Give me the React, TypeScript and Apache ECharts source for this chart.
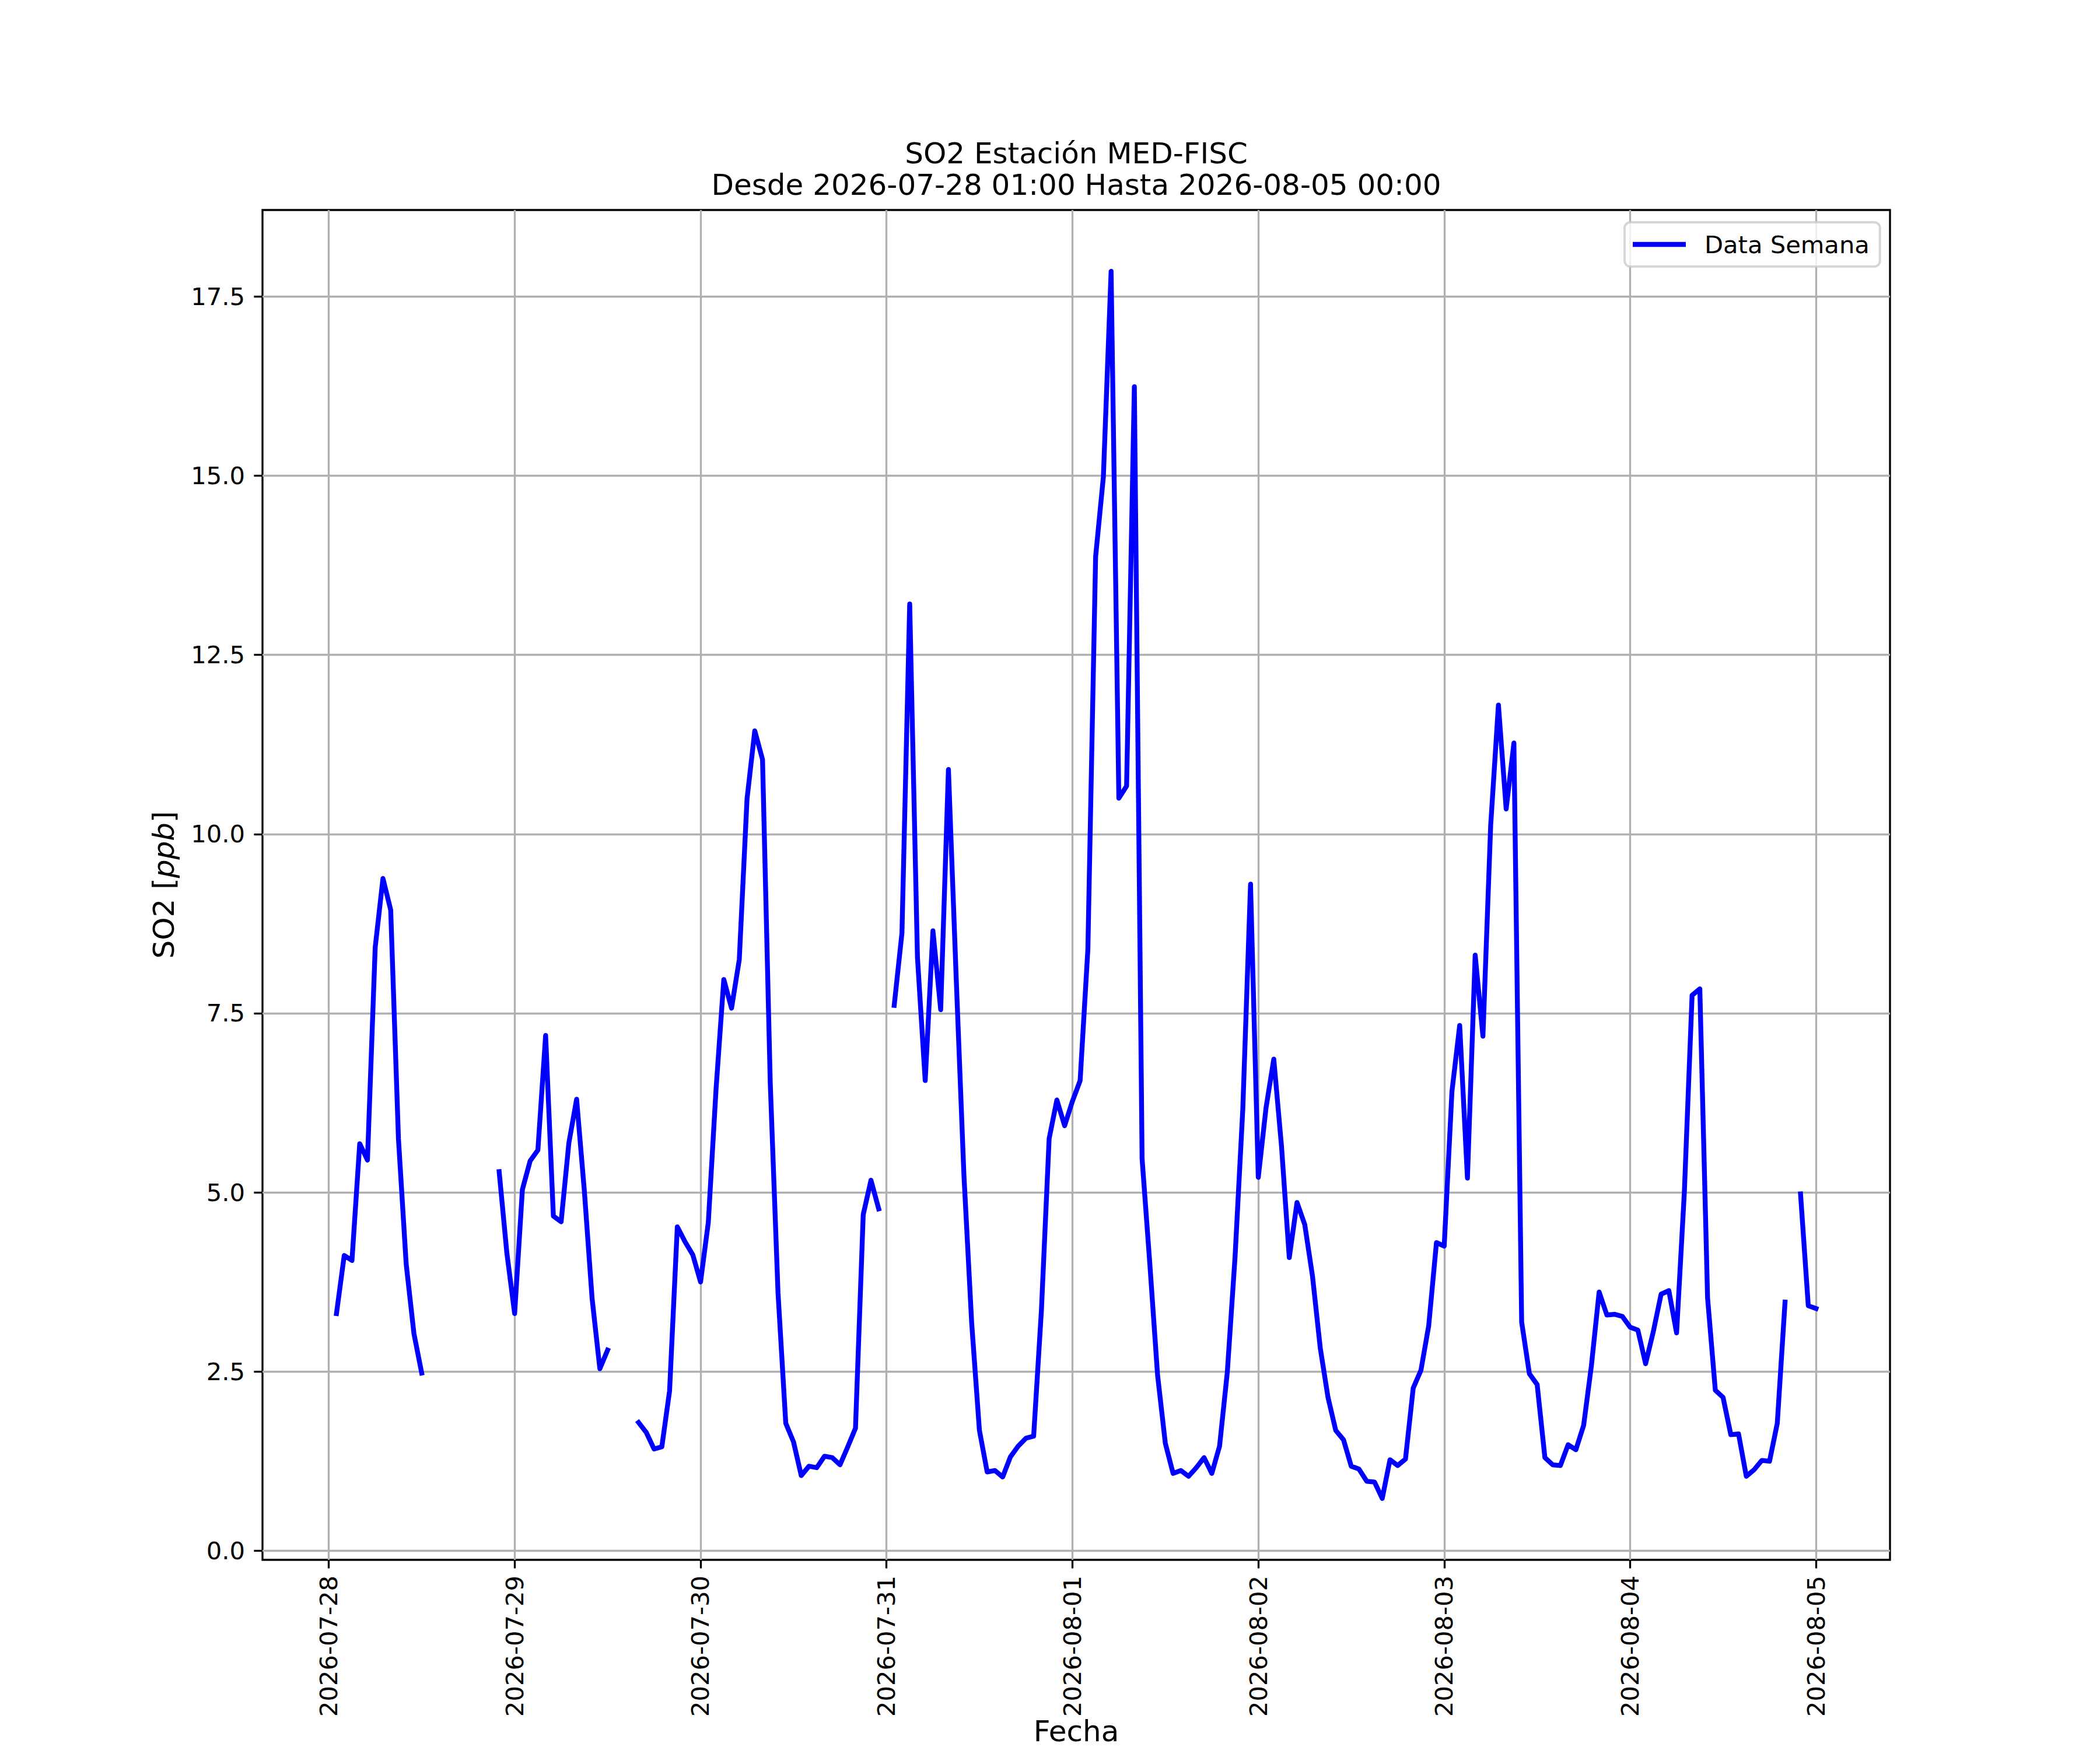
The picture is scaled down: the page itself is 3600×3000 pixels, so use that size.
import React, { useEffect, useRef } from "react";
import * as echarts from "echarts";

// ---- data (SO2 hourly, ppb; null = missing) ----
const dayLabels = [
  "2026-07-28", "2026-07-29", "2026-07-30", "2026-07-31", "2026-08-01",
  "2026-08-02", "2026-08-03", "2026-08-04", "2026-08-05",
];
const yTickValues = [0, 2.5, 5, 7.5, 10, 12.5, 15, 17.5];
const seriesName = "Data Semana";
const firstHour = 1; // first sample: 2026-07-28 01:00

// 2026-07-28, 01:00 .. 23:00
const jul28 = [3.31, 4.12, 4.05, 5.68, 5.45, 8.42, 9.38, 8.94, 5.75, 4.0, 3.03, 2.48,
  null, null, null, null, null, null, null, null, null, 5.29, 4.15];
const jul29 = [3.31, 5.04, 5.44, 5.59, 7.19, 4.67, 4.59, 5.69, 6.3, 5.02, 3.52, 2.54,
  2.8, null, null, null, 1.79, 1.65, 1.42, 1.45, 2.23, 4.52, 4.31, 4.13];
const jul30 = [3.75, 4.58, 6.44, 7.97, 7.57, 8.25, 10.49, 11.44, 11.04, 6.52, 3.6, 1.78,
  1.52, 1.05, 1.18, 1.16, 1.32, 1.3, 1.2, 1.45, 1.71, 4.69, 5.17, 4.77];
const jul31 = [null, 7.61, 8.62, 13.21, 8.28, 6.56, 8.65, 7.55, 10.9, 8.0, 5.24, 3.18,
  1.68, 1.1, 1.12, 1.03, 1.31, 1.46, 1.57, 1.6, 3.35, 5.75, 6.29, 5.93];
const aug01 = [6.27, 6.56, 8.39, 13.87, 14.98, 17.85, 10.5, 10.67, 16.24, 5.47, 4.0, 2.45,
  1.5, 1.08, 1.12, 1.04, 1.16, 1.3, 1.08, 1.46, 2.49, 4.1, 6.16, 9.3];
const aug02 = [5.21, 6.18, 6.86, 5.64, 4.09, 4.86, 4.55, 3.83, 2.83, 2.14, 1.68, 1.55,
  1.18, 1.14, 0.97, 0.96, 0.73, 1.27, 1.19, 1.28, 2.27, 2.52, 3.14, 4.3];
const aug03 = [4.25, 6.41, 7.33, 5.2, 8.31, 7.18, 10.12, 11.8, 10.35, 11.27, 3.19, 2.47,
  2.32, 1.3, 1.2, 1.19, 1.48, 1.41, 1.75, 2.58, 3.61, 3.29, 3.3, 3.27];
const aug04 = [3.12, 3.08, 2.61, 3.06, 3.58, 3.63, 3.04, 5.0, 7.75, 7.84, 3.53, 2.24,
  2.14, 1.62, 1.63, 1.04, 1.13, 1.26, 1.25, 1.78, 3.47, null, 4.98, 3.42];
const aug05 = [3.38];

const FONT = "DejaVu Sans";

export default function App() {
  const ref = useRef<HTMLDivElement>(null);

  useEffect(() => {
    if (!ref.current) return;
    const chart = echarts.init(ref.current, null, { renderer: "svg" });

    const values: (number | null)[] = [
      ...jul28, ...jul29, ...jul30, ...jul31, ...aug01, ...aug02, ...aug03, ...aug04, ...aug05,
    ];
    const points = values.map((v, i) => [firstHour + i, v == null ? "-" : v]);
    const valid = values.filter((v) => v != null) as number[];

    const xFirst = firstHour;
    const xLast = firstHour + values.length - 1;
    const xSpan = xLast - xFirst;
    const xMin = xFirst - 0.05 * xSpan;
    const xMax = xLast + 0.05 * xSpan;

    const dMin = Math.min(...valid);
    const dMax = Math.max(...valid);
    const ySpan = dMax - dMin;
    const yMin = dMin - 0.05 * ySpan;
    const yMax = dMax + 0.05 * ySpan;

    const dayTicks = dayLabels.map((_, i) => i * 24);

    const gridLeft = 450;
    const gridRight = 360;
    const gridTop = 360;
    const gridBottom = 326;
    const plotCenterX = gridLeft + (3600 - gridLeft - gridRight) / 2;
    const plotCenterY = gridTop + (3000 - gridTop - gridBottom) / 2;

    chart.setOption({
      animation: false,
      backgroundColor: "#ffffff",
      textStyle: { fontFamily: FONT },
      title: {
        text: "SO2 Estación MED-FISC\nDesde 2026-07-28 01:00 Hasta 2026-08-05 00:00",
        left: plotCenterX,
        top: 236,
        textAlign: "center",
        padding: 0,
        textStyle: {
          fontFamily: FONT,
          fontSize: 50,
          fontWeight: "normal",
          color: "#000000",
          lineHeight: 54,
        },
      },
      legend: {
        data: [seriesName],
        left: 2785,
        top: 381,
        icon: "rect",
        itemWidth: 91,
        itemHeight: 8.33,
        padding: [14, 18, 14, 14],
        backgroundColor: "rgba(255,255,255,0.8)",
        borderColor: "rgba(204,204,204,0.8)",
        borderWidth: 4,
        borderRadius: 10,
        textStyle: {
          fontFamily: FONT,
          fontSize: 41.67,
          color: "#000000",
          lineHeight: 48,
          padding: [0, 0, 0, 27],
        },
      },
      grid: {
        left: gridLeft,
        right: gridRight,
        top: gridTop,
        bottom: gridBottom,
        show: true,
        borderColor: "#000000",
        borderWidth: 3.33,
        backgroundColor: "transparent",
        containLabel: false,
        outerBoundsMode: "none",
      },
      xAxis: {
        type: "value",
        min: xMin,
        max: xMax,
        axisLine: { show: false, onZero: false },
        axisTick: {
          show: true,
          customValues: dayTicks,
          length: 14.6,
          lineStyle: { color: "#000000", width: 3.33 },
        },
        axisLabel: {
          customValues: dayTicks,
          rotate: 90,
          margin: 27,
          fontFamily: FONT,
          fontSize: 41.67,
          color: "#000000",
          formatter: (v: number) => dayLabels[Math.round(v / 24)] ?? "",
        },
        splitLine: {
          show: true,
          lineStyle: { color: "#b0b0b0", width: 3.33 },
        },
      },
      yAxis: {
        type: "value",
        min: yMin,
        max: yMax,
        axisLine: { show: false, onZero: false },
        axisTick: {
          show: true,
          customValues: yTickValues,
          length: 14.6,
          lineStyle: { color: "#000000", width: 3.33 },
        },
        axisLabel: {
          customValues: yTickValues,
          margin: 30,
          fontFamily: FONT,
          fontSize: 41.67,
          color: "#000000",
          formatter: (v: number) => v.toFixed(1),
        },
        splitLine: {
          show: true,
          lineStyle: { color: "#b0b0b0", width: 3.33 },
        },
      },
      graphic: [
        {
          type: "text",
          x: 281,
          y: plotCenterY,
          rotation: Math.PI / 2,
          style: {
            text: "{a|SO2 [}{b|ppb}{a|]}",
            rich: {
              a: { fontFamily: FONT, fontSize: 50, fill: "#000000" },
              b: { fontFamily: FONT, fontSize: 50, fontStyle: "italic", fill: "#000000" },
            },
            align: "center",
            verticalAlign: "middle",
            fill: "#000000",
          },
        },
        {
          type: "text",
          x: plotCenterX,
          y: 2968,
          style: {
            text: "Fecha",
            fontFamily: FONT,
            fontSize: 50,
            fill: "#000000",
            align: "center",
            verticalAlign: "middle",
          },
        },
      ],
      series: [
        {
          name: seriesName,
          type: "line",
          data: points,
          connectNulls: false,
          symbol: "none",
          showSymbol: false,
          color: "#0000ff",
          itemStyle: { color: "#0000ff" },
          lineStyle: { color: "#0000ff", width: 8.33, join: "round", cap: "square" },
          z: 3,
        },
      ],
    });

    return () => chart.dispose();
  }, []);

  return (
    <div
      ref={ref}
      style={{ width: 3600, height: 3000, position: "absolute", left: 0, top: 0 }}
    />
  );
}
